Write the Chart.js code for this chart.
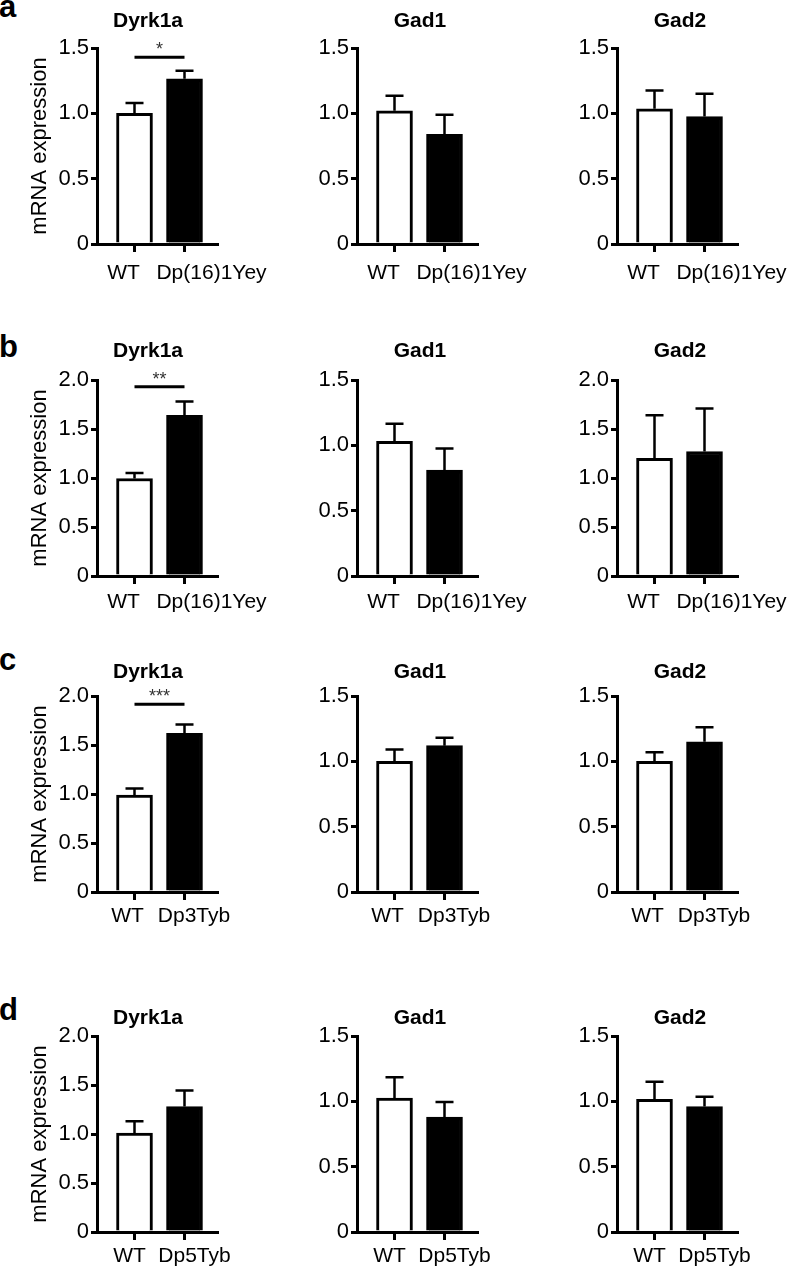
<!DOCTYPE html>
<html><head><meta charset="utf-8">
<script src="https://cdn.jsdelivr.net/npm/chart.js@4.4.1/dist/chart.umd.min.js"></script>
<style>
html,body{margin:0;padding:0;background:#fff;overflow:hidden;}
#wrap{position:relative;width:791px;height:1268px;overflow:hidden;background:#fff;}
.panel{position:absolute;}
.letter{position:absolute;left:-1px;font:bold 31px 'Liberation Sans',Arial,sans-serif;line-height:30px;color:#000;}
</style></head><body><div id="wrap"></div>
<script>
// ---- data ----
const genes = ['Dyrk1a', 'Gad1', 'Gad2'];
const panelLetters = ['a', 'b', 'c', 'd'];
const controlLabel = 'WT';
const strains = ['Dp(16)1Yey', 'Dp(16)1Yey', 'Dp3Tyb', 'Dp5Tyb'];
const wtMean = [[1.00, 1.02, 1.035], [0.995, 1.03, 1.20], [0.99, 1.00, 1.00], [1.01, 1.025, 1.015]];
const wtSem  = [[0.08, 0.115, 0.14], [0.055, 0.135, 0.44], [0.065, 0.09, 0.07], [0.12, 0.16, 0.135]];
const dpMean = [[1.265, 0.84, 0.975], [1.64, 0.81, 1.27], [1.62, 1.12, 1.15], [1.28, 0.88, 0.96]];
const dpSem  = [[0.06, 0.15, 0.175], [0.14, 0.165, 0.44], [0.09, 0.06, 0.11], [0.165, 0.115, 0.075]];
const yMax   = [[1.5, 1.5, 1.5], [2.0, 1.5, 2.0], [2.0, 1.5, 1.5], [2.0, 1.5, 1.5]];
const yStep = 0.5;
const sigText  = ['*', '**', '***', ''];
const sigLevel = [1.43, 1.93, 1.915, null];
const yTitle = 'mRNA expression';

// ---- layout (not data) ----
Chart.defaults.font.family = "'Liberation Sans', Arial, Helvetica, sans-serif";
Chart.defaults.color = '#000';
const rowTop = [0, 332, 648, 988];
const colLeft = [0, 260, 520];
const letterTop = [-8, 332, 645, 995];
const titlePadTop = [8.5, 7, 11.5, 17.5];
const labelPad = [8.5, 5.5, 3.5, 3.5];
const titleShift = [-9, 3, 3];
const labelOffsets = {'Dp(16)1Yey': [-0.22, 0.54], 'Dp3Tyb': [-0.14, 0.19], 'Dp5Tyb': [-0.10, 0.20]};
const CW = 320, CH = 290, YW = 97, PW = 120, TB = 48, XH = 8;
const wrap = document.getElementById('wrap');

panelLetters.forEach((L, r) => {
  const d = document.createElement('div');
  d.className = 'letter'; d.textContent = L; d.style.top = letterTop[r] + 'px';
  wrap.appendChild(d);
});

function makePlugins(r, c) {
  return [{
    id: 'tshift',
    afterLayout(ch) { const t = ch.titleBlock; if (t) { t.left += titleShift[c]; t.right += titleShift[c]; } }
  }, {
    id: 'errbars',
    afterDatasetsDraw(ch) {
      const ctx = ch.ctx, xs = ch.scales.x, ys = ch.scales.y;
      const means = [wtMean[r][c], dpMean[r][c]], sems = [wtSem[r][c], dpSem[r][c]];
      ctx.save();
      ctx.strokeStyle = '#000'; ctx.lineWidth = 2.5; ctx.lineCap = 'butt';
      means.forEach((m, i) => {
        const x = xs.getPixelForValue(i + 1);
        const y0 = ys.getPixelForValue(m), y1 = ys.getPixelForValue(m + sems[i]);
        ctx.beginPath(); ctx.moveTo(x, y0); ctx.lineTo(x, y1);
        ctx.moveTo(x - 9, y1); ctx.lineTo(x + 9, y1); ctx.stroke();
      });
      ctx.restore();
    }
  }, {
    id: 'sig',
    afterDraw(ch) {
      if (c !== 0 || sigLevel[r] == null) return;
      const ctx = ch.ctx, xs = ch.scales.x, ys = ch.scales.y;
      const x1 = xs.getPixelForValue(1), x2 = xs.getPixelForValue(2), y = ys.getPixelForValue(sigLevel[r]);
      ctx.save();
      ctx.strokeStyle = '#000'; ctx.lineWidth = 3;
      ctx.beginPath(); ctx.moveTo(x1, y); ctx.lineTo(x2, y); ctx.stroke();
      ctx.fillStyle = '#333'; ctx.font = "18px 'Liberation Sans', Arial, sans-serif";
      ctx.textAlign = 'center'; ctx.textBaseline = 'alphabetic';
      ctx.fillText(sigText[r], (x1 + x2) / 2, y - 2);
      ctx.restore();
    }
  }];
}

for (let r = 0; r < 4; r++) {
  for (let c = 0; c < 3; c++) {
    const div = document.createElement('div');
    div.className = 'panel';
    div.style.left = colLeft[c] + 'px'; div.style.top = rowTop[r] + 'px';
    div.style.width = CW + 'px'; div.style.height = CH + 'px';
    const cv = document.createElement('canvas');
    cv.width = CW; cv.height = CH; cv.style.width = CW + 'px'; cv.style.height = CH + 'px';
    div.appendChild(cv); wrap.appendChild(div);
    const groups = [controlLabel, strains[r]];
    const off = labelOffsets[strains[r]];
    new Chart(cv, {
      type: 'bar',
      data: {
        datasets: [{
          data: [{x: 1, y: wtMean[r][c]}, {x: 2, y: dpMean[r][c]}],
          backgroundColor: ['#ffffff', '#000000'],
          borderColor: '#000000', borderWidth: 3, barThickness: 36, borderSkipped: 'start'
        }]
      },
      options: {
        responsive: false, animation: false,
        layout: {padding: {left: 0, right: CW - YW - PW, top: 0, bottom: 0}},
        plugins: {
          legend: {display: false}, tooltip: {enabled: false},
          title: {display: true, text: genes[c], fullSize: false, color: '#000',
                  font: {size: 21, weight: 'bold', lineHeight: 1.2},
                  padding: {top: titlePadTop[r], bottom: TB - 25.2 - titlePadTop[r]}}
        },
        scales: {
          x: {type: 'linear', position: 'bottom', min: 0.25, max: 2.65, weight: 0, z: 1, offset: false,
              afterBuildTicks: s => { s.ticks = [{value: 1}, {value: 2}]; },
              ticks: {display: false},
              grid: {display: true, offset: false, drawOnChartArea: false, drawTicks: true, tickLength: XH, lineWidth: 3, color: '#000'},
              border: {display: true, width: 3, color: '#000'},
              afterFit: s => { s.height = XH; }},
          xl: {type: 'linear', position: 'bottom', min: 0.25, max: 2.65, weight: 1, offset: false,
              afterBuildTicks: s => { s.ticks = [{value: 1 + off[0]}, {value: 2 + off[1]}]; },
              ticks: {display: true, autoSkip: false, maxRotation: 0, minRotation: 0, padding: labelPad[r],
                      color: '#000', font: {size: 21}, callback: (v, i) => groups[i]},
              grid: {display: false, offset: false, drawTicks: false}, border: {display: false},
              afterFit: s => { s.height = CH - TB - 196 - XH; }},
          y: {type: 'linear', position: 'left', min: 0, max: yMax[r][c], z: 1,
              ticks: {stepSize: yStep, color: '#000', font: {size: 22}, padding: 2,
                      callback: v => v === 0 ? '0' : v.toFixed(1)},
              grid: {display: true, drawOnChartArea: false, drawTicks: true, tickLength: 6, lineWidth: 3, color: '#000'},
              border: {display: true, width: 3, color: '#000'},
              title: {display: c === 0, text: yTitle, color: '#000', font: {size: 22}, padding: {top: 27, bottom: 0}},
              afterFit: s => { s.width = YW; }}
        }
      },
      plugins: makePlugins(r, c)
    });
  }
}
</script></body></html>
